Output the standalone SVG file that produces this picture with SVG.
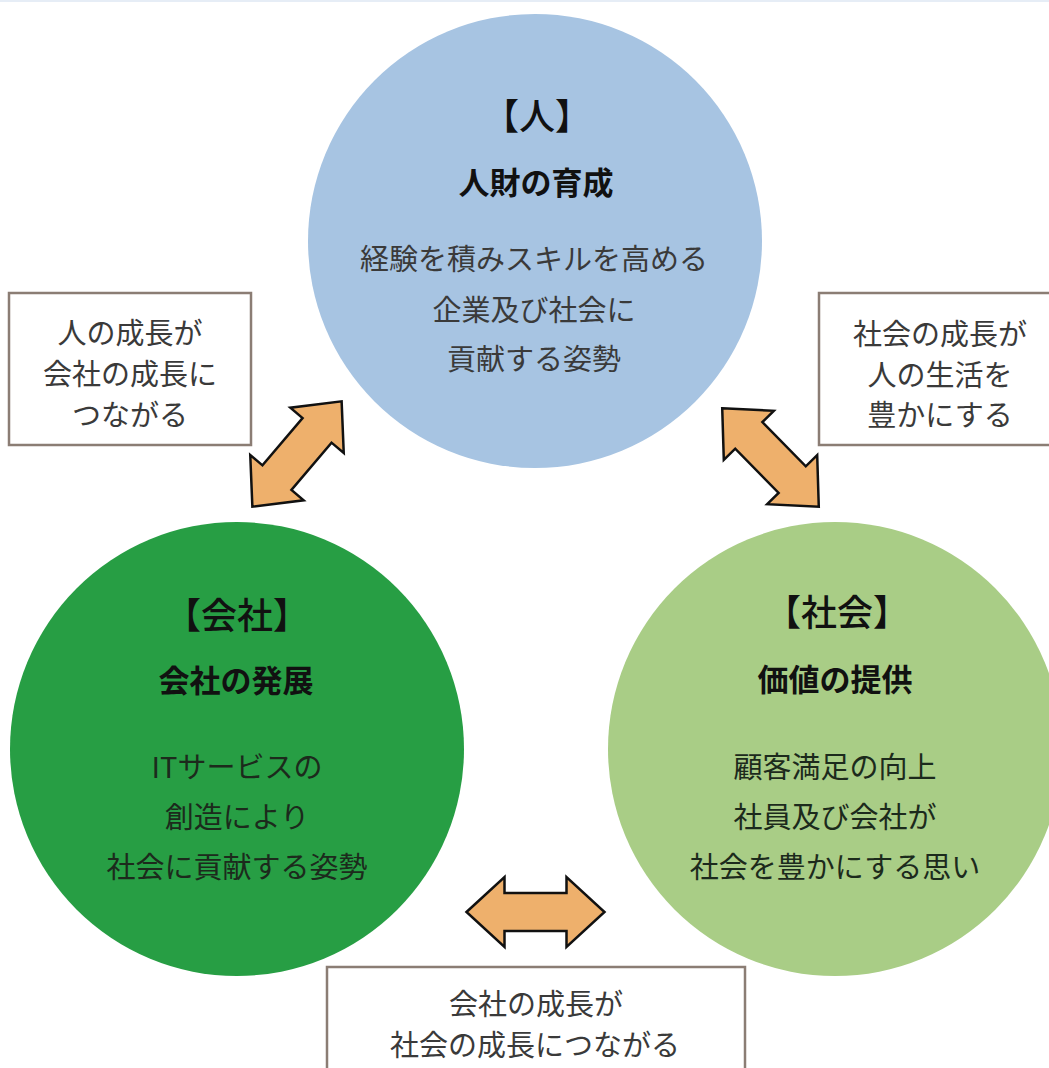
<svg xmlns="http://www.w3.org/2000/svg" width="1049" height="1068" viewBox="0 0 1049 1068">
<defs>
<style>
.title{font-family:"Noto Sans CJK JP","Noto Sans",sans-serif;font-size:36px;font-weight:500;fill:#111;text-anchor:middle;dominant-baseline:central}
.sub{font-family:"Noto Sans CJK JP","Noto Sans",sans-serif;font-size:31px;font-weight:700;fill:#111;text-anchor:middle;dominant-baseline:central}
.body{font-family:"Noto Sans CJK JP","Noto Sans",sans-serif;font-size:29px;font-weight:400;fill:#3a3a3a;text-anchor:middle;dominant-baseline:central}
.bodyd{font-family:"Noto Sans CJK JP","Noto Sans",sans-serif;font-size:29px;font-weight:400;fill:#1c2a1c;text-anchor:middle;dominant-baseline:central}
.box{fill:#fff;stroke:#8b7d74;stroke-width:2.5}
.arrow{fill:#eeb06c;stroke:#111;stroke-width:2.5;stroke-linejoin:miter}
</style>
<polygon id="dblarrow" points="-69,0 -31,-35 -31,-19 31,-19 31,-35 69,0 31,35 31,19 -31,19 -31,35"/>
</defs>
<rect x="0" y="0" width="1049" height="1068" fill="#fff"/>
<rect x="0" y="0" width="1049" height="2" fill="#e6edf6"/>

<g id="node-person">
<circle cx="535" cy="241" r="227" fill="#a7c4e2"/>
<text class="title" x="537" y="114">【人】</text>
<text class="sub" x="536" y="180">人財の育成</text>
<text class="body" x="534" y="257">経験を積みスキルを高める</text>
<text class="body" x="534" y="308">企業及び社会に</text>
<text class="body" x="534" y="357">貢献する姿勢</text>
</g>

<g id="node-company">
<circle cx="237" cy="749" r="227" fill="#279e44"/>
<text class="title" x="237" y="613">【会社】</text>
<text class="sub" x="236" y="678">会社の発展</text>
<text class="bodyd" x="237" y="765">ITサービスの</text>
<text class="bodyd" x="237" y="815">創造により</text>
<text class="bodyd" x="237" y="865">社会に貢献する姿勢</text>
</g>

<g id="node-society">
<circle cx="835" cy="749" r="227" fill="#a9cd86"/>
<text class="title" x="837" y="610">【社会】</text>
<text class="sub" x="835" y="677">価値の提供</text>
<text class="bodyd" x="835" y="765">顧客満足の向上</text>
<text class="bodyd" x="835" y="815">社員及び会社が</text>
<text class="bodyd" x="835" y="865">社会を豊かにする思い</text>
</g>

<g id="label-left">
<rect class="box" x="9" y="293" width="242" height="152"/>
<text class="body" x="130" y="331">人の成長が</text>
<text class="body" x="130" y="372">会社の成長に</text>
<text class="body" x="130" y="413">つながる</text>
</g>

<g id="label-right">
<rect class="box" x="819" y="293" width="240" height="152"/>
<text class="body" x="940" y="332">社会の成長が</text>
<text class="body" x="940" y="373">人の生活を</text>
<text class="body" x="940" y="413">豊かにする</text>
</g>

<g id="label-bottom">
<rect class="box" x="327" y="967" width="418" height="110"/>
<text class="body" x="536" y="1002">会社の成長が</text>
<text class="body" x="535" y="1043">社会の成長につながる</text>
</g>

<g id="connectors">
<use href="#dblarrow" class="arrow" transform="translate(297,454) rotate(-49.7)"/>
<use href="#dblarrow" class="arrow" transform="translate(770.5,457.5) rotate(45.6)"/>
<use href="#dblarrow" class="arrow" transform="translate(535.5,912)"/>
</g>
</svg>
